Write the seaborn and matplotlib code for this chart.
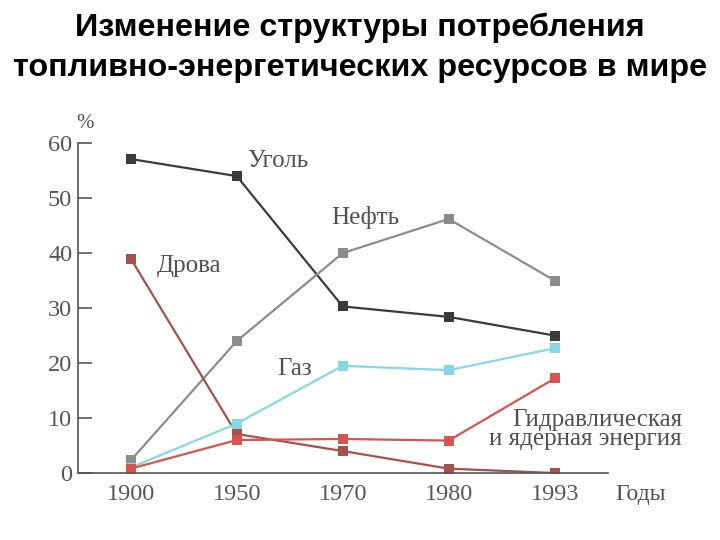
import matplotlib
matplotlib.use("Agg")
import matplotlib.pyplot as plt
import seaborn as sns
import pandas as pd

years = ["1900", "1950", "1970", "1980", "1993"]
coal = [57.1, 54.0, 30.3, 28.4, 25.0]
oil = [2.3, 24.0, 40.0, 46.2, 35.0]
wood = [39.0, 7.1, 4.0, 0.8, 0.0]
gas = [1.0, 9.0, 19.5, 18.7, 22.7]
hydro = [0.8, 6.0, 6.2, 5.9, 17.2]

series_names = ["Уголь", "Нефть", "Дрова", "Газ", "Гидравлическая\nи ядерная энергия"]
series_values = [coal, oil, wood, gas, hydro]
colors = ["#3b3b3b", "#8c8c8c", "#a5524c", "#86d8e8", "#d9534f"]

rows = []
for name, vals in zip(series_names, series_values):
    for i, (yr, v) in enumerate(zip(years, vals)):
        rows.append({"pos": i, "year": yr, "value": v, "series": name})
df = pd.DataFrame(rows)

sns.set_theme(style="white")
plt.rcParams["font.family"] = ["DejaVu Sans"]

fig = plt.figure(figsize=(7.2, 5.4), dpi=100)
ax = fig.add_axes([0.108, 0.124, 0.736, 0.611])

sns.lineplot(data=df, x="pos", y="value", hue="series", hue_order=series_names,
             palette=dict(zip(series_names, colors)), marker="s", markersize=6.5,
             markeredgewidth=0, linewidth=1.6, legend=False, ax=ax)

ax.set_xlim(-0.5, 4.5)
ax.set_ylim(0, 60)
ax.set_xticks(range(len(years)))
ax.set_xticklabels(years)
ax.set_yticks([0, 10, 20, 30, 40, 50, 60])
ax.set_xlabel("")
ax.set_ylabel("")
for s in ["top", "right"]:
    ax.spines[s].set_visible(False)
for s in ["left", "bottom"]:
    ax.spines[s].set_color("#555555")
    ax.spines[s].set_linewidth(1.2)
ax.tick_params(axis="y", direction="in", length=10, width=1.2, color="#555555",
               labelsize=17.5, labelcolor="#555555", pad=4, left=True)
ax.tick_params(axis="x", length=0, labelsize=17.5, labelcolor="#555555", pad=8)
for lab in ax.get_xticklabels() + ax.get_yticklabels():
    lab.set_family(["Liberation Serif", "DejaVu Serif"])

serif = ["Liberation Serif", "DejaVu Serif"]
tc = "#505050"
fs = 18
ax.text(1.10, 56.7, "Уголь", family=serif, fontsize=fs, color=tc, va="center", ha="left")
ax.text(1.89, 46.5, "Нефть", family=serif, fontsize=fs, color=tc, va="center", ha="left")
ax.text(0.245, 37.6, "Дрова", family=serif, fontsize=fs, color=tc, va="center", ha="left")
ax.text(1.38, 18.9, "Газ", family=serif, fontsize=fs, color=tc, va="center", ha="left")
ax.text(5.2, 7.9, "Гидравлическая\nи ядерная энергия", family=serif, fontsize=fs,
        color=tc, va="center", ha="right", linespacing=0.85, clip_on=False)
ax.text(-0.51, 63.6, "%", family=serif, fontsize=15, color=tc, va="center", ha="left", clip_on=False)
ax.text(4.57, -3.9, "Годы", family=serif, fontsize=17, color=tc, va="center", ha="left", clip_on=False)

fig.text(0.5, 0.948, "Изменение структуры потребления", ha="center", va="center",
         fontsize=23.3, fontweight="bold", color="black", family=["Liberation Sans", "DejaVu Sans"])
fig.text(0.5, 0.874, "топливно-энергетических ресурсов в мире", ha="center", va="center",
         fontsize=23.3, fontweight="bold", color="black", family=["Liberation Sans", "DejaVu Sans"])

fig.savefig("out.png", dpi=100, facecolor="white")
